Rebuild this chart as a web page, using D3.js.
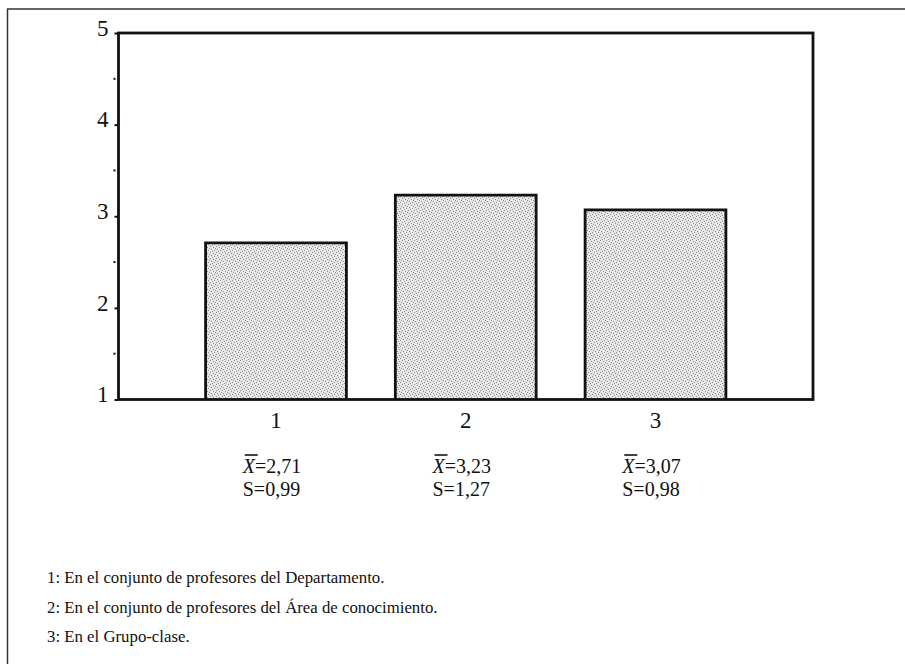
<!DOCTYPE html>
<html>
<head>
<meta charset="utf-8">
<script src="https://cdn.jsdelivr.net/npm/d3@7"></script>
<style>
  html, body { margin: 0; padding: 0; background: #fff; }
  svg { display: block; }
  text { font-family: "Liberation Serif", "DejaVu Serif", serif; fill: #111; }
</style>
</head>
<body>
<svg id="chart" width="905" height="664"></svg>
<script>
// ---- data ----
const categories = ["1", "2", "3"];
const means = [2.71, 3.23, 3.07];
const meanLabels = ["2,71", "3,23", "3,07"];
const sdLabels = ["0,99", "1,27", "0,98"];
const yTicks = [1, 2, 3, 4, 5];
const yMinorTicks = [1.5, 2.5, 3.5, 4.5];
const legendLines = [
  "1: En el conjunto de profesores del Departamento.",
  "2: En el conjunto de profesores del Área de conocimiento.",
  "3: En el Grupo-clase."
];

// ---- layout ----
const svg = d3.select("#chart");
const plot = { left: 118.5, right: 813, top: 33, bottom: 399.5 };

// page frame (top and left rule)
svg.append("line").attr("x1", 7).attr("x2", 905).attr("y1", 9).attr("y2", 9)
  .attr("stroke", "#333").attr("stroke-width", 1.5);
svg.append("line").attr("x1", 7.5).attr("x2", 7.5).attr("y1", 9).attr("y2", 664)
  .attr("stroke", "#333").attr("stroke-width", 1.5);

// stipple pattern
const defs = svg.append("defs");
const pat = defs.append("pattern").attr("id", "stipple")
  .attr("width", 6).attr("height", 6).attr("patternUnits", "userSpaceOnUse");
pat.append("rect").attr("width", 6).attr("height", 6).attr("fill", "#e6e6e6");
[[0,0],[3,1],[1,3],[4,4],[2,5],[5,2]].forEach(([dx, dy]) => {
  pat.append("rect").attr("x", dx).attr("y", dy).attr("width", 1).attr("height", 1).attr("fill", "#8f8f8f");
});

const x = d3.scaleBand().domain(categories)
  .range([plot.left, plot.right]).paddingInner(0.258).paddingOuter(0.459);
const y = d3.scaleLinear().domain([1, 5]).range([plot.bottom, plot.top]);

// bars
const bars = svg.append("g");
categories.forEach((c, i) => {
  const x0 = x(c), x1 = x(c) + x.bandwidth(), yt = y(means[i]);
  bars.append("rect").attr("x", x0).attr("y", yt)
    .attr("width", x.bandwidth()).attr("height", plot.bottom - yt)
    .attr("fill", "url(#stipple)");
  bars.append("path")
    .attr("d", `M${x0},${plot.bottom}V${yt}H${x1}V${plot.bottom}`)
    .attr("fill", "none").attr("stroke", "#111").attr("stroke-width", 2.8);
});

// plot frame
svg.append("rect").attr("x", plot.left).attr("y", plot.top)
  .attr("width", plot.right - plot.left).attr("height", plot.bottom - plot.top)
  .attr("fill", "none").attr("stroke", "#111").attr("stroke-width", 2.8);

// y axis
const yAxis = d3.axisLeft(y).tickValues(yTicks).tickSize(4).tickPadding(6)
  .tickFormat(d3.format("d"));
const gy = svg.append("g").attr("transform", `translate(${plot.left},0)`).call(yAxis);
gy.select(".domain").remove();
gy.selectAll(".tick line").attr("stroke", "#111").attr("stroke-width", 2);
gy.selectAll(".tick text").style("font-family", '"Liberation Serif", serif')
  .style("font-size", "23px").attr("fill", "#111").attr("dy", "0.1em");
svg.append("g").selectAll("rect").data(yMinorTicks).join("rect")
  .attr("x", plot.left - 5).attr("y", d => y(d) - 1)
  .attr("width", 2).attr("height", 2).attr("fill", "#111");

// x axis labels
const xAxis = d3.axisBottom(x).tickSize(0).tickPadding(12);
const gx = svg.append("g").attr("transform", `translate(0,${plot.bottom})`).call(xAxis);
gx.select(".domain").remove();
gx.selectAll(".tick text").style("font-family", '"Liberation Serif", serif')
  .style("font-size", "23px").attr("fill", "#111");

// mean / sd annotations
categories.forEach((c, i) => {
  const center = x(c) + x.bandwidth() / 2 - 4;
  const t = svg.append("text").attr("y", 473).style("font-size", "20px");
  t.append("tspan").style("font-style", "italic").text("X");
  t.append("tspan").text("=" + meanLabels[i]);
  const w = t.node().getComputedTextLength();
  const cx = center - w / 2;
  t.attr("x", cx);
  svg.append("line").attr("x1", cx + 2).attr("x2", cx + 15).attr("y1", 455).attr("y2", 455)
    .attr("stroke", "#111").attr("stroke-width", 1.6);
  svg.append("text").attr("x", cx).attr("y", 496).style("font-size", "20px")
    .text("S=" + sdLabels[i]);
});

// legend
svg.append("g").selectAll("text").data(legendLines).join("text")
  .attr("x", 47).attr("y", (d, i) => 583 + i * 29.5)
  .style("font-size", "16.8px").text(d => d);
</script>
</body>
</html>
